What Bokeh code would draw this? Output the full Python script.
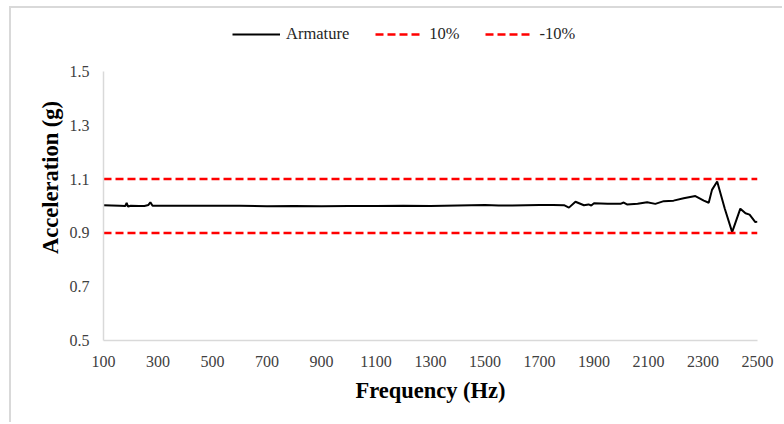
from bokeh.plotting import figure
from bokeh.models import Range1d, FixedTicker, PrintfTickFormatter, Legend, LegendItem
from bokeh.embed import file_html
from bokeh.resources import INLINE

freq = [100, 130, 160, 180, 185, 190, 200, 230, 250, 265, 272, 280, 320, 400, 500, 600,
        700, 800, 900, 1000, 1100, 1200, 1300, 1400, 1500, 1550, 1600, 1700, 1750, 1790,
        1808, 1832, 1863, 1880, 1890, 1900, 1950, 1997, 2009, 2021, 2060, 2095, 2125,
        2156, 2192, 2229, 2272, 2303, 2321, 2333, 2352, 2380, 2407, 2437, 2456, 2471,
        2492, 2500]
accel = [1.003, 1.002, 1.001, 1.000, 1.012, 0.998, 1.001, 1.000, 1.000, 1.004, 1.014,
         1.001, 1.001, 1.001, 1.001, 1.001, 0.999, 1.000, 0.999, 1.000, 1.000, 1.001,
         1.000, 1.002, 1.004, 1.002, 1.002, 1.004, 1.004, 1.003, 0.994, 1.016, 1.003,
         1.006, 1.002, 1.010, 1.008, 1.008, 1.013, 1.006, 1.008, 1.014, 1.008, 1.018,
         1.020, 1.029, 1.037, 1.020, 1.012, 1.060, 1.091, 0.990, 0.903, 0.990, 0.973,
         0.968, 0.940, 0.942]
limit_x = [100, 2500]
upper = [1.1, 1.1]
lower = [0.9, 0.9]
x_ticks = [100, 300, 500, 700, 900, 1100, 1300, 1500, 1700, 1900, 2100, 2300, 2500]
y_ticks = [0.5, 0.7, 0.9, 1.1, 1.3, 1.5]
y_min, y_max = 0.5, 1.5

FONT = "Liberation Serif"

# frame extends above 1.5 to host the legend; the y axis line is bounded to 0.5-1.5
p = figure(width=773, height=416, output_backend="svg", toolbar_location=None,
           x_range=Range1d(100, 2500), y_range=Range1d(y_min, 1.712),
           min_border_left=92, min_border_right=27, min_border_bottom=84,
           min_border_top=6)
p.styles = {"margin-left": "9px", "margin-top": "6px",
            "border-left": "2px solid #d9d9d9", "border-top": "2px solid #d9d9d9"}
p.outline_line_color = None
p.xgrid.visible = False
p.ygrid.visible = False

r1 = p.line(freq, accel, line_color="black", line_width=2)
r2 = p.line(limit_x, upper, line_color="#ff0000", line_width=2.5, line_dash="8 4")
r3 = p.line(limit_x, lower, line_color="#ff0000", line_width=2.5, line_dash="8 4")

for ax in (p.xaxis[0], p.yaxis[0]):
    ax.axis_line_color = "#d9d9d9"
    ax.axis_line_width = 1.5
    ax.major_tick_line_color = None
    ax.minor_tick_line_color = None
    ax.major_tick_out = 0
    ax.major_tick_in = 0
    ax.major_label_text_font = FONT
    ax.major_label_text_font_size = "16px"
    ax.major_label_text_color = "#404040"
    ax.axis_label_text_font = FONT
    ax.axis_label_text_font_size = "22.5px"
    ax.axis_label_text_font_style = "bold"
    ax.axis_label_text_color = "black"

p.yaxis[0].bounds = (y_min, y_max)
p.xaxis[0].ticker = FixedTicker(ticks=x_ticks)
p.yaxis[0].ticker = FixedTicker(ticks=y_ticks)
p.yaxis[0].formatter = PrintfTickFormatter(format="%.1f")
p.xaxis[0].axis_label = "Frequency (Hz)"
p.yaxis[0].axis_label = "Acceleration (g)"
p.xaxis[0].major_label_standoff = 15
p.yaxis[0].major_label_standoff = 14
p.xaxis[0].axis_label_standoff = 8
p.yaxis[0].axis_label_standoff = 4

legend = Legend(items=[LegendItem(label="Armature", renderers=[r1]),
                       LegendItem(label="10%", renderers=[r2]),
                       LegendItem(label="-10%", renderers=[r3])],
                orientation="horizontal", location=(129, 296),
                label_text_font=FONT, label_text_font_size="16.5px",
                label_text_color="#262626", glyph_width=48, label_standoff=6,
                spacing=26, border_line_color=None, background_fill_alpha=0,
                margin=0, padding=4)
p.add_layout(legend, "center")

open("out.html", "w").write(file_html(p, INLINE))
